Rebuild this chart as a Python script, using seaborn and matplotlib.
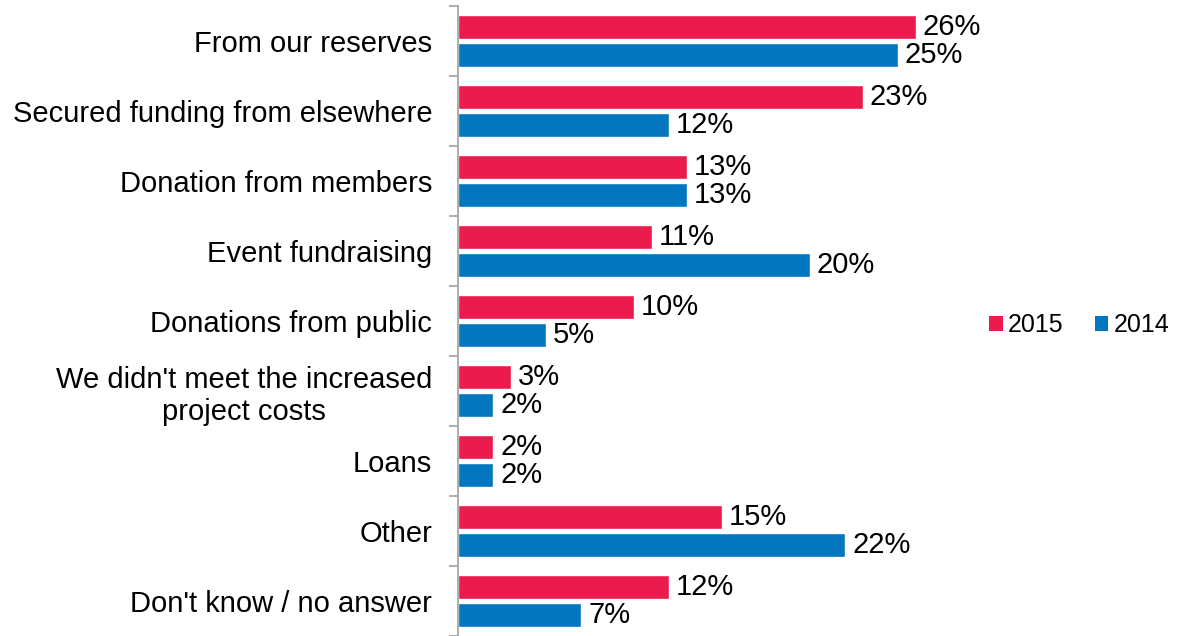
import matplotlib
matplotlib.use("Agg")
import matplotlib.pyplot as plt
import matplotlib.ticker as mticker
from matplotlib.patches import Patch
import seaborn as sns
import pandas as pd

categories = [
    "From our reserves",
    "Secured funding from elsewhere",
    "Donation from members",
    "Event fundraising",
    "Donations from public",
    "We didn't meet the increased\nproject costs",
    "Loans",
    "Other",
    "Don't know / no answer",
]
years = ["2015", "2014"]
values_2015 = [26, 23, 13, 11, 10, 3, 2, 15, 12]
values_2014 = [25, 12, 13, 20, 5, 2, 2, 22, 7]
colors = ["#EC1B4E", "#0276BF"]

df = pd.DataFrame({
    "category": categories * 2,
    "year": [years[0]] * len(categories) + [years[1]] * len(categories),
    "value": values_2015 + values_2014,
})

sns.set_theme(style="white")
plt.rcParams["font.family"] = ["Liberation Sans", "DejaVu Sans"]

fig = plt.figure(figsize=(11.77, 6.36), dpi=100)
ax = fig.add_axes([458 / 1177, 0.0, 1 - 458 / 1177 - 15 / 1177, 1 - 6 / 636])

sns.barplot(data=df, y="category", x="value", hue="year", hue_order=years,
            order=categories, palette=colors, orient="h", width=0.80, gap=0.17,
            saturation=1, ax=ax, legend=False)

ax.set_xlim(0, 40)
ax.set_ylim(len(categories) - 0.5, -0.5)
ax.set_xlabel("")
ax.set_ylabel("")
ax.set_xticks([])

# value labels at the end of each bar
for cont in ax.containers:
    ax.bar_label(cont, labels=[f"{v:.0f}%" for v in cont.datavalues],
                 padding=5, fontsize=21, color="#000000")

# spines and ticks
for s in ["top", "right", "bottom"]:
    ax.spines[s].set_visible(False)
ax.spines["left"].set_color("#A6A6A6")
ax.spines["left"].set_linewidth(1.3)

ax.set_yticks(range(len(categories)))
ax.set_yticklabels(categories, fontsize=21, color="#000000", multialignment="center",
                   linespacing=1.17)
ax.tick_params(axis="y", which="major", length=0, pad=18.5)
ax.yaxis.set_minor_locator(mticker.FixedLocator([i - 0.5 for i in range(len(categories) + 1)]))
ax.tick_params(axis="y", which="minor", length=6.5, width=1.3, color="#A6A6A6", left=True)

# legend
handles = [Patch(facecolor=c, edgecolor="none") for c in colors]
fig.legend(handles, years, loc="center left", bbox_to_anchor=(979 / 1177, 1 - 325 / 636),
           ncol=2, frameon=False, fontsize=18, handlelength=0.55, handleheight=0.55,
           handletextpad=0.2, columnspacing=1.25, borderaxespad=0, labelcolor="#000000")

fig.savefig("out.png", dpi=100)
